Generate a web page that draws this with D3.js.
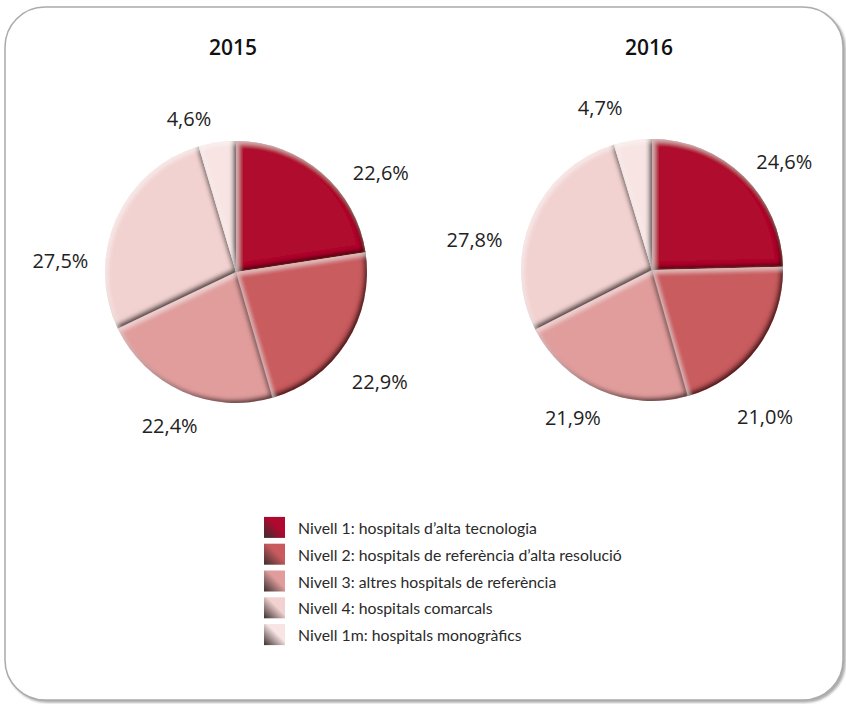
<!DOCTYPE html>
<html>
<head>
<meta charset="utf-8">
<script src="https://cdn.jsdelivr.net/npm/d3@7"></script>
<style>
  html, body { margin: 0; padding: 0; background: #fff; }
  svg { display: block; }
</style>
</head>
<body>
<div id="chart"></div>
<script>
// ---- data ----
const categories = [
  "Nivell 1: hospitals d\u2019alta tecnologia",
  "Nivell 2: hospitals de refer\u00e8ncia d\u2019alta resoluci\u00f3",
  "Nivell 3: altres hospitals de refer\u00e8ncia",
  "Nivell 4: hospitals comarcals",
  "Nivell 1m: hospitals monogr\u00e0fics"
];
const years = ["2015", "2016"];
const values2015 = [22.6, 22.9, 22.4, 27.5, 4.6];
const values2016 = [24.6, 21.0, 21.9, 27.8, 4.7];
const colors = ["#b0092f", "#c95b5f", "#e09d9c", "#f1d2d0", "#f7e4e3"];

// ---- layout ----
const W = 846, H = 704;
const radius = 131;
const pieCenters = [{x: 236, y: 272}, {x: 652, y: 270}];
// label placement relative to mid-angle (degrees) and distance from centre
const labelNudge = [[14.7, 4.8, -0.7, -20.1, -8.7], [6.4, 16, 4.7, -13.4, -9.2]];
const labelDist  = [[176, 181, 167, 176, 161], [171, 185, 167, 180, 171]];

const svg = d3.select("#chart").append("svg").attr("width", W).attr("height", H);
const defs = svg.append("defs");

// frame shadow + frame
const fs = defs.append("filter").attr("id", "frameShadow").attr("x", "-5%").attr("y", "-5%").attr("width", "110%").attr("height", "110%");
fs.append("feGaussianBlur").attr("in", "SourceAlpha").attr("stdDeviation", 1.2).attr("result", "b");
fs.append("feOffset").attr("in", "b").attr("dx", 2).attr("dy", 2).attr("result", "o");
fs.append("feFlood").attr("flood-color", "#999").attr("flood-opacity", 0.8);
fs.append("feComposite").attr("in2", "o").attr("operator", "in").attr("result", "sh");
const fm = fs.append("feMerge");
fm.append("feMergeNode").attr("in", "sh");
fm.append("feMergeNode").attr("in", "SourceGraphic");

svg.append("rect")
  .attr("x", 5).attr("y", 7).attr("width", 838).attr("height", 693)
  .attr("rx", 40).attr("ry", 40)
  .attr("fill", "#fff").attr("stroke", "#ababab").attr("stroke-width", 1.5)
  .attr("filter", "url(#frameShadow)");

// bevel filter for slices
const bv = defs.append("filter").attr("id", "bevel").attr("x", "-10%").attr("y", "-10%").attr("width", "120%").attr("height", "120%");
bv.append("feGaussianBlur").attr("in", "SourceAlpha").attr("stdDeviation", 2).attr("result", "b");
bv.append("feOffset").attr("in", "b").attr("dx", -3.5).attr("dy", -3.5).attr("result", "o1");
bv.append("feComposite").attr("in", "SourceAlpha").attr("in2", "o1").attr("operator", "out").attr("result", "darkEdge");
bv.append("feFlood").attr("flood-color", "#200000").attr("flood-opacity", 0.9);
bv.append("feComposite").attr("in2", "darkEdge").attr("operator", "in").attr("result", "shadow");
bv.append("feOffset").attr("in", "b").attr("dx", 3).attr("dy", 3).attr("result", "o2");
bv.append("feComposite").attr("in", "SourceAlpha").attr("in2", "o2").attr("operator", "out").attr("result", "lightEdge");
bv.append("feFlood").attr("flood-color", "#ffffff").attr("flood-opacity", 0.45);
bv.append("feComposite").attr("in2", "lightEdge").attr("operator", "in").attr("result", "hl");
const bm = bv.append("feMerge");
bm.append("feMergeNode").attr("in", "SourceGraphic");
bm.append("feMergeNode").attr("in", "shadow");
bm.append("feMergeNode").attr("in", "hl");

const pie = d3.pie().sort(null).value(d => d).startAngle(0).endAngle(2 * Math.PI);
const arc = d3.arc().innerRadius(0).outerRadius(radius);
const fmt = v => d3.format(".1f")(v).replace(".", ",") + "%";

[values2015, values2016].forEach((vals, yi) => {
  const c = pieCenters[yi];
  const g = svg.append("g").attr("transform", `translate(${c.x},${c.y})`);
  const arcs = pie(vals);
  g.selectAll("path.slice").data(arcs).join("path")
    .attr("class", "slice")
    .attr("d", arc)
    .attr("fill", (d, i) => colors[i])
    .attr("filter", "url(#bevel)");

  g.selectAll("text.lbl").data(arcs).join("text")
    .attr("class", "lbl")
    .attr("x", (d, i) => {
      const a = (d.startAngle + d.endAngle) / 2 + labelNudge[yi][i] * Math.PI / 180;
      return Math.sin(a) * labelDist[yi][i];
    })
    .attr("y", (d, i) => {
      const a = (d.startAngle + d.endAngle) / 2 + labelNudge[yi][i] * Math.PI / 180;
      return -Math.cos(a) * labelDist[yi][i];
    })
    .attr("text-anchor", "middle")
    .attr("dominant-baseline", "central")
    .attr("font-family", "'Open Sans', sans-serif")
    .attr("font-size", 20)
    .attr("fill", "#222")
    .text(d => fmt(d.data));

  svg.append("text")
    .attr("x", c.x - 3).attr("y", 47)
    .attr("text-anchor", "middle")
    .attr("dominant-baseline", "central")
    .attr("font-family", "'Open Sans', sans-serif")
    .attr("font-weight", 600)
    .attr("font-size", 21)
    .attr("fill", "#111")
    .text(years[yi]);
});

// legend
colors.forEach((col, i) => {
  const gr = defs.append("linearGradient").attr("id", "lg" + i)
    .attr("x1", 1).attr("y1", 0).attr("x2", 0).attr("y2", 1);
  gr.append("stop").attr("offset", "0%").attr("stop-color", col);
  gr.append("stop").attr("offset", "42%").attr("stop-color", col);
  gr.append("stop").attr("offset", "100%").attr("stop-color", "#3a2e2e");
});
const legendY = d3.scaleBand().domain(d3.range(categories.length)).range([514, 648]);
const lg = svg.append("g");
const items = lg.selectAll("g").data(categories).join("g")
  .attr("transform", (d, i) => `translate(264,${legendY(i) + legendY.bandwidth() / 2})`);
items.append("rect")
  .attr("x", 0).attr("y", -10.5).attr("width", 21).attr("height", 21)
  .attr("fill", (d, i) => `url(#lg${i})`);
items.append("text")
  .attr("x", 34).attr("y", 0)
  .attr("dominant-baseline", "central")
  .attr("font-family", "Lato, sans-serif")
  .attr("font-size", 15.8)
  .attr("fill", "#2a2a2a")
  .text(d => d);
</script>
</body>
</html>
